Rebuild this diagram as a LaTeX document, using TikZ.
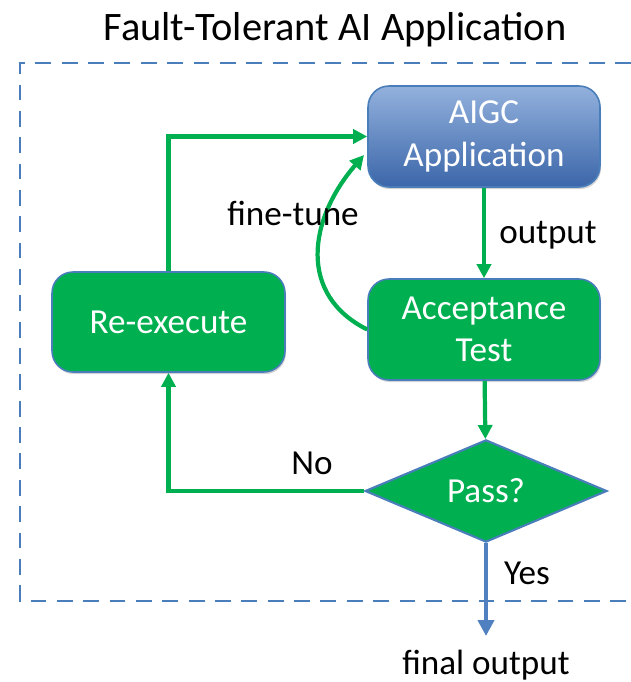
\documentclass[tikz,border=0pt]{standalone}
\usepackage{fontspec}
\setmainfont{Carlito}
\usetikzlibrary{arrows.meta,shapes.geometric,shadows}

\definecolor{flowgreen}{HTML}{00B050}
\definecolor{edgeblue}{HTML}{4A7EBB}
\definecolor{aigctop}{HTML}{93B1DD}
\definecolor{aigcbot}{HTML}{3B66A9}
\definecolor{yesblue}{HTML}{5080C0}

\tikzset{
    box/.style={rounded corners=0.42cm, draw=edgeblue, line width=0.9pt,
        minimum width=4.64cm, minimum height=2.02cm, align=center,
        text=white, font=\fontsize{20}{24}\selectfont,
        drop shadow={shadow xshift=0.6pt, shadow yshift=-1.2pt, opacity=0.35}},
    greenbox/.style={box, fill=flowgreen},
    label/.style={font=\fontsize{20}{23}\selectfont},
    flow/.style={draw=flowgreen, line width=2.4pt,
        -{Triangle[length=8pt,width=8pt]}},
}

\begin{document}
\begin{tikzpicture}[x=0.02cm, y=-0.02cm]
    \useasboundingbox (0, 0) rectangle (631, 682);
    \node[font=\fontsize{23}{27}\selectfont] (title) at(335, 30) {Fault-Tolerant AI Application};
    % dashed frame
    \draw[edgeblue, line width=1.2pt, dash pattern=on 9pt off 6pt] (631, 63) -- (20, 63) -- (20, 601) -- (631, 601);
    \node[box, top color=aigctop, bottom color=aigcbot] (aigc) at(484, 136.5) {AIGC\\Application};
    \node[greenbox] (acc) at(484, 329.5) {Acceptance\\Test};
    \node[greenbox, minimum width=4.66cm, minimum height=2.0cm] (rex) at(168.5, 322) {Re-execute};
    \node[diamond, fill=flowgreen, draw=edgeblue, line width=1.2pt, inner sep=0pt,
        minimum width=4.84cm, minimum height=1.84cm, text=white,
        font=\fontsize{20}{23}\selectfont] (pass) at(486, 491) {Pass?};
    \coordinate (ftend) at(364, 155);
    \coordinate (fin) at(486, 636);
    \draw[flow] (aigc) -- (acc);
    \draw[flow] (acc) -- (pass);
    \draw[flow] (pass.west) -| (rex.south);
    \draw[flow] (rex.north) |- (aigc.west);
    \draw[flow] (acc.west) .. controls (298, 295) and (308, 220) .. (ftend);
    \draw[yesblue, line width=2.8pt, -{Triangle[length=9pt,width=9pt]}] (pass.south) -- (fin);
    \node[label] (output) at(548, 235) {output};
    \node[label] (finetune) at(293, 213) {fine-tune};
    \node[label] (no) at(312, 463) {No};
    \node[label] (yes) at(527, 573) {Yes};
    \node[label] (finout) at(486, 665) {final output};
\end{tikzpicture}
\end{document}
